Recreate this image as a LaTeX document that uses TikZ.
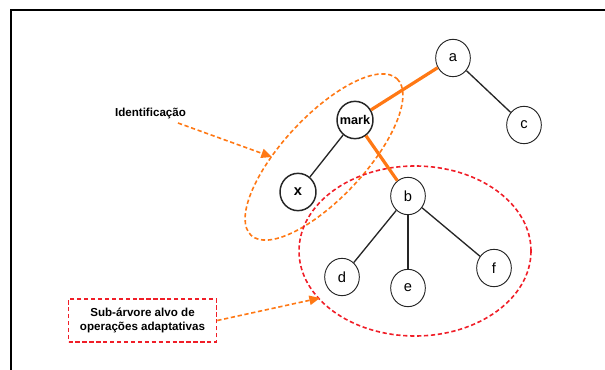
\documentclass[tikz,border=0pt]{standalone}
\usepackage{fontspec}
\setmainfont{Liberation Sans}
\usetikzlibrary{arrows.meta,shapes.geometric}
\definecolor{orng}{RGB}{255,120,20}
\definecolor{redd}{RGB}{240,30,40}
\begin{document}
\begin{tikzpicture}[x=0.75pt,y=-0.75pt,
  tnode/.style={draw=black!85,line width=0.7pt,fill=white,ellipse,minimum width=26pt,minimum height=28pt,inner sep=0pt,font=\fontsize{11}{11}\selectfont},
  bnode/.style={tnode,line width=1.1pt,minimum width=27pt,font=\bfseries\fontsize{9.5}{10}\selectfont},
  blk/.style={draw=black!85,line width=1pt},
  orl/.style={draw=orng,line width=2.4pt},
  odash/.style={draw=orng,line width=1.2pt,dash pattern=on 3.2pt off 2pt},
  rdash/.style={draw=redd,line width=1.2pt,dash pattern=on 3.2pt off 2pt},
  oarrow/.style={odash,-{Triangle[length=8pt,width=7pt]},shorten >=0pt},
  lbl/.style={font=\bfseries\fontsize{8.7}{10.5}\selectfont,align=center}]
\useasboundingbox (0,0) rectangle (605,370);
% frame
\draw[line width=1.1pt] (11,370) -- (11,10) -- (605,10);
% ellipses
\draw[odash] (324,157) ellipse[x radius=107,y radius=41,rotate=47];
\draw[rdash] (415,251) ellipse[x radius=116,y radius=85];
% nodes
\node[tnode] (a) at (453,58) {a};
\node[tnode] (c) at (524,125) {c};
\node[bnode] (mark) at (355,120) {\makebox[0pt]{mark}};
\node[bnode,font=\bfseries\fontsize{11}{11}\selectfont] (x) at (298,192) {x};
\node[tnode] (b) at (408,196) {b};
\node[tnode] (d) at (342,277) {d};
\node[tnode] (e) at (408,288) {e};
\node[tnode] (f) at (494,268) {f};
% edges
\draw[orl] (a) -- (mark);
\draw[orl] (mark) -- (b);
\draw[blk] (a) -- (c);
\draw[blk] (mark) -- (x);
\draw[blk] (b) -- (d);
\draw[blk] (b) -- (e);
\draw[blk] (b) -- (f);
% labels
\node[lbl] (ident) at (150.5,114) {Identificação};
\coordinate (identend) at (272,157);
\draw[oarrow] (178,123) -- (identend);
\node[lbl,rdash,minimum width=111pt,minimum height=32pt,inner sep=2pt] (sub) at (142.5,320.5) {Sub-árvore alvo de\\operações adaptativas};
\coordinate (subend) at (320,298);
\draw[oarrow] (sub.east) -- (subend);
\end{tikzpicture}
\end{document}
